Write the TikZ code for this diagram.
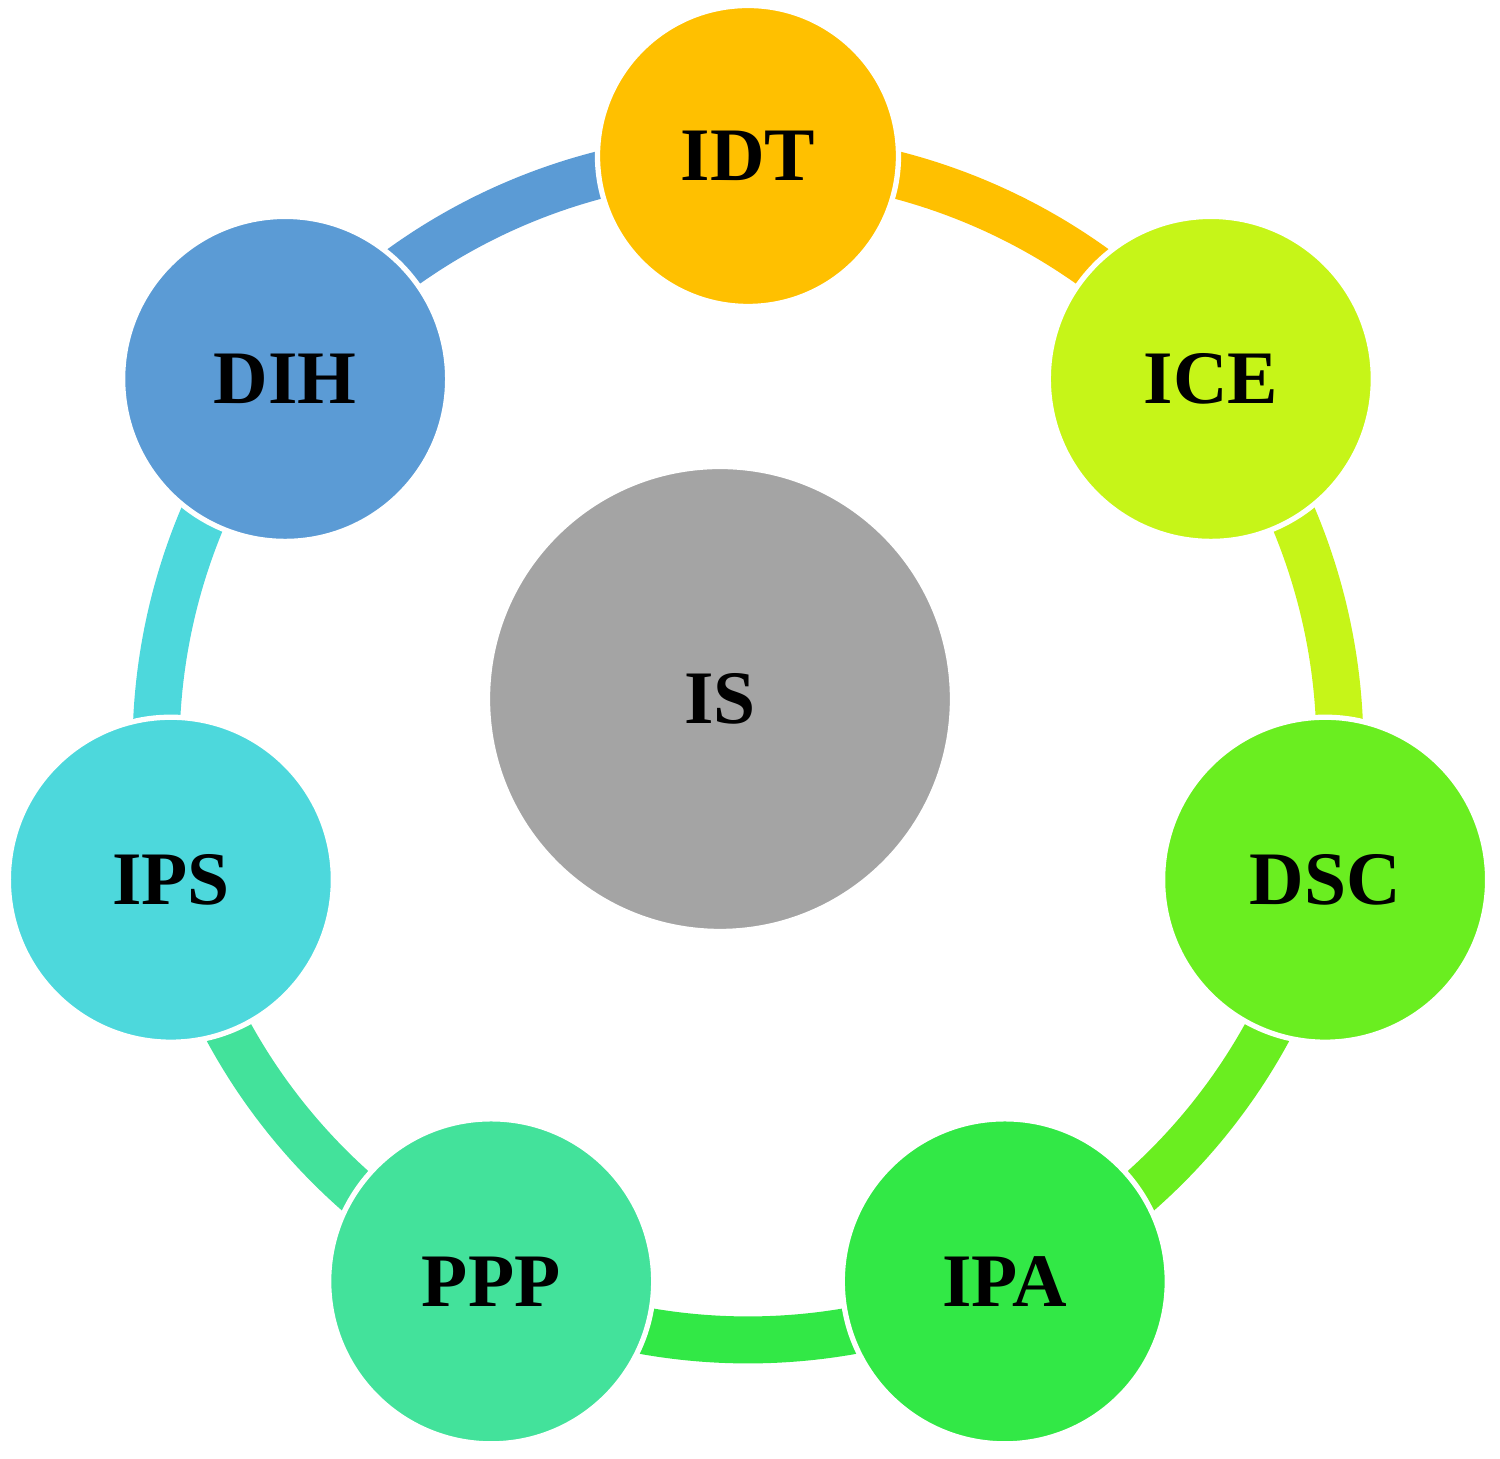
\documentclass[tikz,border=0pt]{standalone}
\usepackage{fontspec}
\setmainfont{Liberation Serif}
\definecolor{idtcol}{HTML}{FFC000}
\definecolor{icecol}{HTML}{C6F518}
\definecolor{dsccol}{HTML}{6AEE20}
\definecolor{ipacol}{HTML}{32E846}
\definecolor{pppcol}{HTML}{43E29B}
\definecolor{ipscol}{HTML}{4DD8DC}
\definecolor{dihcol}{HTML}{5B9BD5}
\definecolor{iscol}{HTML}{A4A4A4}
\pgfdeclarelayer{background}
\pgfsetlayers{background,main}

\begin{document}
\begin{tikzpicture}[
  font=\fontsize{21.5}{26}\selectfont\bfseries,
  bubble/.style={circle,draw=white,line width=1.5pt,inner sep=0pt,
    minimum size=3.25cm},
  ring/.style={line width=0.47cm}
]
  \useasboundingbox (-7.48,-7.11) rectangle (7.52,7.48);

  % centre
  \node[bubble,fill=iscol,minimum size=4.65cm] (is) at (-0.28,0.49) {IS};

  % outer circles, clockwise from the top
  \node[bubble,fill=idtcol,minimum size=3.01cm] (idt) at (90:5.92) {IDT};
  \node[bubble,fill=icecol] (ice) at (38.57:5.92) {ICE};
  \node[bubble,fill=dsccol] (dsc) at (-12.86:5.92) {DSC};
  \node[bubble,fill=ipacol] (ipa) at (-64.29:5.92) {IPA};
  \node[bubble,fill=pppcol] (ppp) at (-115.71:5.92) {PPP};
  \node[bubble,fill=ipscol] (ips) at (-167.14:5.92) {IPS};
  \node[bubble,fill=dihcol] (dih) at (141.43:5.92) {DIH};

  % ring, behind the circles
  \begin{pgfonlayer}{background}
    \draw[ring,idtcol] (idt.center) arc[start angle=90,end angle=38.57,radius=5.92];
    \draw[ring,icecol] (ice.center) arc[start angle=38.57,end angle=-12.86,radius=5.92];
    \draw[ring,dsccol] (dsc.center) arc[start angle=-12.86,end angle=-64.29,radius=5.92];
    \draw[ring,ipacol] (ipa.center) arc[start angle=-64.29,end angle=-115.71,radius=5.92];
    \draw[ring,pppcol] (ppp.center) arc[start angle=-115.71,end angle=-167.14,radius=5.92];
    \draw[ring,ipscol] (ips.center) arc[start angle=-167.14,end angle=-218.57,radius=5.92];
    \draw[ring,dihcol] (dih.center) arc[start angle=141.43,end angle=90,radius=5.92];
  \end{pgfonlayer}
\end{tikzpicture}
\end{document}
